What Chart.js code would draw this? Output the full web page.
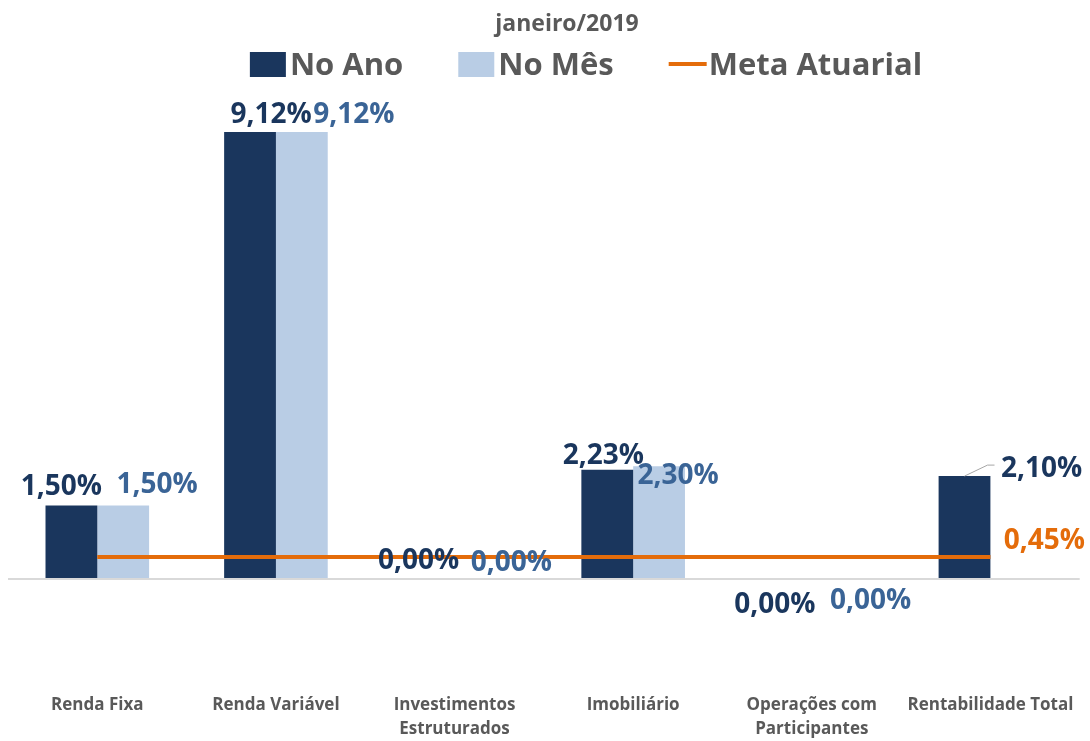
<!DOCTYPE html>
<html lang="pt-BR">
<head>
<meta charset="utf-8">
<title>janeiro/2019</title>
<script src="https://cdn.jsdelivr.net/npm/chart.js@4"></script>
<style>
  html, body { margin: 0; padding: 0; background: #fff; }
  #wrap { width: 1090px; height: 741px; position: relative; }
</style>
</head>
<body>
<div id="wrap"><canvas id="grafico"></canvas></div>
<script>
// Dados
const titulo = 'janeiro/2019';
const categorias = [
  'Renda Fixa',
  'Renda Variável',
  ['Investimentos', 'Estruturados'],
  'Imobiliário',
  ['Operações com', 'Participantes'],
  'Rentabilidade Total'
];
const noAno = [1.50, 9.12, 0.00, 2.23, 0.00, 2.10];
const noMes = [1.50, 9.12, 0.00, 2.30, 0.00, null];
const metaAtuarial = [0.45, 0.45, 0.45, 0.45, 0.45, 0.45];
const nomesSeries = ['No Ano', 'No Mês', 'Meta Atuarial'];

// Cores
const corAno = '#1A365D';
const corMes = '#B9CDE5';
const corMeta = '#E46C0A';
const corTexto = '#595959';
const corRotuloMes = '#3A6496';
const FONTE = "'Open Sans', sans-serif";

// deslocamento dos rótulos (dx, dy) a partir do topo da barra
const desvioAno = [[-10, -20], [21, -19], [-10, -20], [-4, -16], [-11, 24], [77, -9]];
const desvioMes = [[34, -22], [52, -19], [31, -18], [19, 8], [33, 20], [0, 0]];
const desvioMeta = [54, -18];

function formatar(v) {
  return v.toFixed(2).replace('.', ',') + '%';
}

// texto centrado verticalmente pela altura das maiúsculas
function textoCentro(ctx, txt, x, y, tam) {
  ctx.fillText(txt, x, y + tam * 0.357);
}

// Plugin: título + legenda desenhados no topo
const tituloLegenda = {
  id: 'tituloLegenda',
  afterDraw(chart) {
    const ctx = chart.ctx;
    ctx.save();
    ctx.fillStyle = corTexto;
    ctx.textAlign = 'center';
    ctx.font = `bold 23px ${FONTE}`;
    textoCentro(ctx, titulo, 567, 23, 23);

    // legenda
    ctx.font = `bold 31px ${FONTE}`;
    const itens = [
      { tipo: 'caixa', cor: corAno, txt: nomesSeries[0] },
      { tipo: 'caixa', cor: corMes, txt: nomesSeries[1] },
      { tipo: 'linha', cor: corMeta, txt: nomesSeries[2] }
    ];
    const caixaL = 36, gap = 4, espaco = 55;
    let total = 0;
    itens.forEach((it, i) => {
      it.w = ctx.measureText(it.txt).width;
      total += caixaL + gap + it.w + (i ? espaco : 0);
    });
    let x = 586 - total / 2;
    const yc = 64;
    ctx.textAlign = 'left';
    itens.forEach(it => {
      if (it.tipo === 'caixa') {
        ctx.fillStyle = it.cor;
        ctx.fillRect(x, yc - 12, caixaL, 25);
      } else {
        ctx.strokeStyle = it.cor;
        ctx.lineWidth = 4;
        ctx.beginPath();
        ctx.moveTo(x, yc);
        ctx.lineTo(x + caixaL + 2, yc);
        ctx.stroke();
      }
      ctx.fillStyle = corTexto;
      textoCentro(ctx, it.txt, x + caixaL + gap, yc, 31);
      x += caixaL + gap + it.w + espaco;
    });
    ctx.restore();
  }
};

// Plugin: rótulos de dados
const rotulos = {
  id: 'rotulos',
  afterDatasetsDraw(chart) {
    const ctx = chart.ctx;
    ctx.save();
    ctx.textAlign = 'center';
    ctx.font = `bold 28px ${FONTE}`;

    const metaAno = chart.getDatasetMeta(0);
    const metaMes = chart.getDatasetMeta(1);
    const metaLinha = chart.getDatasetMeta(2);

    metaAno.data.forEach((el, i) => {
      if (noAno[i] == null) return;
      const [dx, dy] = desvioAno[i];
      ctx.fillStyle = corAno;
      textoCentro(ctx, formatar(noAno[i]), el.x + dx, el.y + dy, 28);
    });
    metaMes.data.forEach((el, i) => {
      if (noMes[i] == null) return;
      const [dx, dy] = desvioMes[i];
      ctx.fillStyle = corRotuloMes;
      textoCentro(ctx, formatar(noMes[i]), el.x + dx, el.y + dy, 28);
    });

    // linha guia do total
    const ult = categorias.length - 1;
    const barra = metaAno.data[ult];
    ctx.strokeStyle = '#A6A6A6';
    ctx.lineWidth = 1;
    ctx.beginPath();
    ctx.moveTo(barra.x, barra.y);
    ctx.lineTo(barra.x + 23, barra.y - 11);
    ctx.lineTo(barra.x + 30, barra.y - 11);
    ctx.stroke();

    // rótulo da meta (só no último ponto)
    const pt = metaLinha.data[ult];
    ctx.fillStyle = corMeta;
    textoCentro(ctx, formatar(metaAtuarial[ult]), pt.x + desvioMeta[0], pt.y + desvioMeta[1], 28);
    ctx.restore();
  }
};

const ctx = document.getElementById('grafico').getContext('2d');
new Chart(ctx, {
  type: 'bar',
  data: {
    labels: categorias,
    datasets: [
      {
        label: nomesSeries[0],
        data: noAno,
        backgroundColor: corAno,
        categoryPercentage: 0.58,
        barPercentage: 1,
        order: 1
      },
      {
        label: nomesSeries[1],
        data: noMes,
        backgroundColor: corMes,
        categoryPercentage: 0.58,
        barPercentage: 1,
        order: 1
      },
      {
        type: 'line',
        label: nomesSeries[2],
        data: metaAtuarial,
        borderColor: corMeta,
        borderWidth: 4,
        pointRadius: 0,
        fill: false,
        order: 0
      }
    ]
  },
  options: {
    responsive: true,
    maintainAspectRatio: false,
    animation: false,
    layout: { padding: { top: 89, left: 8, right: 8, bottom: 0 } },
    plugins: {
      legend: { display: false },
      title: { display: false },
      tooltip: { enabled: false }
    },
    scales: {
      x: {
        grid: { display: false, drawTicks: false },
        border: { display: false },
        afterFit(scale) { scale.height = 64; },
        ticks: {
          color: corTexto,
          font: { family: FONTE, weight: 'bold', size: 17, lineHeight: 1.42 },
          padding: 16,
          maxRotation: 0,
          autoSkip: false
        }
      },
      y: {
        min: -2,
        max: 10,
        border: { display: false },
        grid: {
          drawTicks: false,
          lineWidth: 2,
          color: c => c.tick && c.tick.value === 0 ? '#D9D9D9' : 'rgba(0,0,0,0)'
        },
        ticks: { display: false, stepSize: 1, padding: 0 }
      }
    }
  },
  plugins: [tituloLegenda, rotulos]
});
</script>
</body>
</html>
